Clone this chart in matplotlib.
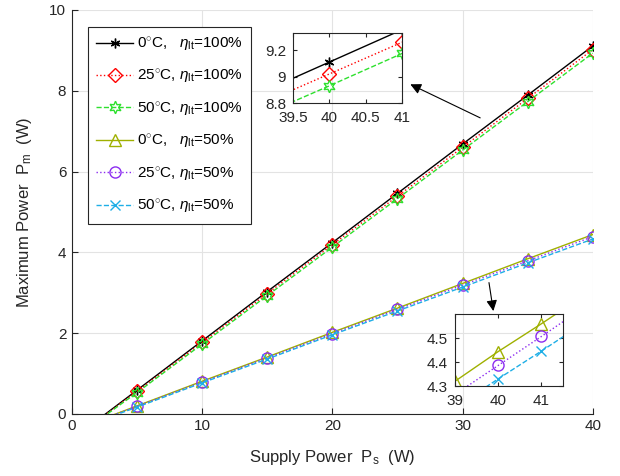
import numpy as np
import matplotlib
matplotlib.use('Agg')
import matplotlib.pyplot as plt

plt.rcParams['font.family'] = ['Liberation Sans', 'DejaVu Sans']
plt.rcParams['mathtext.fontset'] = 'custom'
plt.rcParams['mathtext.rm'] = 'Liberation Sans'
plt.rcParams['mathtext.it'] = 'Liberation Sans:italic'
plt.rcParams['mathtext.bf'] = 'Liberation Sans:bold'

# supply power (W), main plot
Ps = [0, 5, 10, 15, 20, 25, 30, 35, 40]
# maximum power (W), eta_lt = 100%
pm_0c_100 = [-0.63, 0.59, 1.81, 3.03, 4.24, 5.46, 6.68, 7.89, 9.11]
pm_25c_100 = [-0.63, 0.56, 1.77, 2.98, 4.19, 5.39, 6.60, 7.81, 9.02]
pm_50c_100 = [-0.63, 0.53, 1.73, 2.93, 4.13, 5.33, 6.53, 7.73, 8.93]
# eta_lt = 50%
pm_0c_50 = [-0.41, 0.20, 0.81, 1.41, 2.02, 2.62, 3.23, 3.84, 4.44]
pm_25c_50 = [-0.41, 0.19, 0.79, 1.39, 1.99, 2.59, 3.19, 3.79, 4.39]
pm_50c_50 = [-0.42, 0.17, 0.77, 1.36, 1.96, 2.55, 3.14, 3.74, 4.33]

# zoomed data
Ps_zoom = [39, 40, 41, 42]
z_0c_100 = [8.865, 9.11, 9.355, 9.60]
z_25c_100 = [8.78, 9.02, 9.26, 9.50]
z_50c_100 = [8.69, 8.93, 9.175, 9.42]
z_0c_50 = [4.32, 4.444, 4.56, 4.68]
z_25c_50 = [4.265, 4.386, 4.507, 4.63]
z_50c_50 = [4.21, 4.33, 4.446, 4.565]

labels = [r'0$^{\circ}$C,   $\eta_{\rm lt}$=100%',
          r'25$^{\circ}$C, $\eta_{\rm lt}$=100%',
          r'50$^{\circ}$C, $\eta_{\rm lt}$=100%',
          r'0$^{\circ}$C,   $\eta_{\rm lt}$=50%',
          r'25$^{\circ}$C, $\eta_{\rm lt}$=50%',
          r'50$^{\circ}$C, $\eta_{\rm lt}$=50%']

styles = [dict(color='k', ls='-', marker=(6, 2, 0), ms=7),
          dict(color='#ff0000', ls=':', marker='D', ms=7, mfc='none'),
          dict(color='#2ee02e', ls='--', marker=(6, 1, 0), ms=9, mfc='none'),
          dict(color='#9fb000', ls='-', marker='^', ms=8, mfc='none'),
          dict(color='#8b2cf0', ls=':', marker='o', ms=8, mfc='none'),
          dict(color='#1eaee6', ls='--', marker='x', ms=7, mfc='none')]

axcol = '#262626'

fig = plt.figure(figsize=(6.2, 4.76), dpi=100)
ax = fig.add_axes([0.116, 0.1303, 0.840, 0.8487])

series = [pm_0c_100, pm_25c_100, pm_50c_100, pm_0c_50, pm_25c_50, pm_50c_50]
for s, lab, st in zip(series, labels, styles):
    ax.plot(Ps, s, lw=1.0, mew=1.0, label=lab, **st)

ax.set_xlim(0, 40)
ax.set_ylim(0, 10)
ax.set_xticks([0, 10, 20, 30, 40])
ax.set_yticks([0, 2, 4, 6, 8, 10])
ax.grid(True, color='#e3e3e3', lw=0.8)
ax.set_axisbelow(True)
for sp in ['top', 'right']:
    ax.spines[sp].set_visible(False)
for sp in ['left', 'bottom']:
    ax.spines[sp].set_color(axcol)
ax.tick_params(direction='in', length=4, color=axcol, labelcolor=axcol, labelsize=11)
ax.tick_params(axis='y', pad=4)
ax.set_xlabel(r'Supply Power  P$_{\rm s}$  (W)', fontsize=12, color=axcol, labelpad=11)
ax.set_ylabel(r'Maximum Power  P$_{\rm m}$  (W)', fontsize=12, color=axcol, labelpad=11)

leg = ax.legend(loc='upper left', bbox_to_anchor=(0.031, 0.958), borderaxespad=0,
                fontsize=11, labelspacing=0.98, handlelength=2.4, handletextpad=0.25,
                fancybox=False, framealpha=1, edgecolor=axcol, borderpad=0.55)
leg.get_frame().set_linewidth(0.8)

# inset for eta_lt = 100%
ax1 = fig.add_axes([0.4726, 0.7836, 0.1758, 0.147])
ax1.patch.set_alpha(0)
for s, st in zip([z_0c_100, z_25c_100, z_50c_100], styles[:3]):
    ax1.plot(Ps_zoom, s, lw=1.0, mew=1.0, **st)
ax1.set_xlim(39.5, 41)
ax1.set_ylim(8.8, 9.33)
ax1.set_xticks([39.5, 40, 40.5, 41])
ax1.set_xticklabels(['39.5', '40', '40.5', '41'])
ax1.set_yticks([8.8, 9, 9.2])
ax1.set_yticklabels(['8.8', '9', '9.2'])

# inset for eta_lt = 50%
ax2 = fig.add_axes([0.7339, 0.189, 0.1742, 0.151])
ax2.patch.set_alpha(0)
for s, st in zip([z_0c_50, z_25c_50, z_50c_50], styles[3:]):
    ax2.plot(Ps_zoom, s, lw=1.0, mew=1.0, **st)
ax2.set_xlim(39, 41.5)
ax2.set_ylim(4.3, 4.6)
ax2.set_xticks([39, 40, 41])
ax2.set_yticks([4.3, 4.4, 4.5])
ax2.set_yticklabels(['4.3', '4.4', '4.5'])

for a in (ax1, ax2):
    for sp in a.spines.values():
        sp.set_color(axcol)
    a.tick_params(direction='in', length=3, color=axcol, labelcolor=axcol,
                  labelsize=11, top=True, right=True)
    a.tick_params(axis='x', pad=6)
    a.tick_params(axis='y', pad=5)

ax.annotate('', xy=(25.8, 8.19), xytext=(31.55, 7.30),
            arrowprops=dict(arrowstyle='-|>', color='k', lw=0.8, mutation_scale=16))
ax.annotate('', xy=(32.4, 2.48), xytext=(32.0, 3.32),
            arrowprops=dict(arrowstyle='-|>', color='k', lw=0.8, mutation_scale=16))

fig.savefig('out.png', dpi=100)
